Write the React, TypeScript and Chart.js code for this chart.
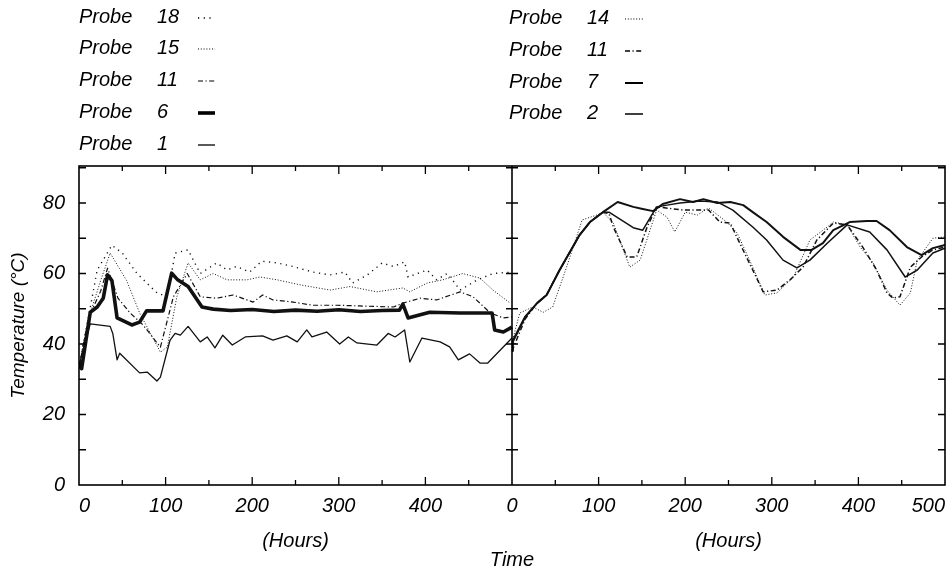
import React, { useEffect, useRef } from 'react';
import { Chart, registerables } from 'chart.js';

Chart.register(...registerables);

const FONT = '"Liberation Sans", Arial, Helvetica, sans-serif';

// Each panel spans 0..500 hours; the right panel is placed after the left one on a shared axis.
const PANEL_SPAN = 500;
const X_TICK_LABELS = [0, 100, 200, 300, 400, 500];
const Y_TICK_LABELS = [0, 20, 40, 60, 80];

// ---------- Left panel (hours, °C) ----------
const P18_H = [0, 5, 12, 21, 38, 50, 67, 90, 102, 111, 126, 140, 159, 171, 182, 197, 211, 229, 247, 270, 290, 307, 316, 333, 350, 363, 376, 380, 402, 413, 425, 434, 440, 460, 478, 500];
const P18_T = [33, 40, 49, 61, 68, 65.8, 60, 54.5, 53.4, 65.8, 66.7, 60, 63, 61, 62, 60.4, 63.5, 63, 62, 60.4, 59.6, 60.4, 57.3, 59.6, 63, 62, 63.3, 59, 61, 58.2, 60, 57.3, 55.3, 58.2, 60, 60.4];

const P15_H = [0, 5, 12, 25, 36, 55, 70, 94, 102, 113, 126, 140, 155, 171, 194, 209, 229, 255, 290, 313, 344, 374, 382, 402, 420, 443, 463, 478, 498];
const P15_T = [33, 40, 48, 58, 65.8, 58, 48.8, 37.7, 39.1, 53.4, 63, 58.2, 60, 58.2, 58.2, 59, 58.2, 56.8, 55.3, 56.3, 54.8, 55.9, 54.8, 57.3, 58.2, 60, 58.7, 55.3, 51.6];

const P11L_H = [0, 5, 12, 25, 33, 45, 59, 74, 94, 109, 125, 140, 159, 178, 201, 212, 224, 247, 270, 298, 324, 363, 374, 394, 413, 440, 455, 475, 490, 500];
const P11L_T = [33, 40, 48, 55, 61.5, 53, 48.8, 45.4, 39.1, 53.4, 60, 53.4, 53, 53.9, 51.9, 53.9, 52.5, 51.9, 51, 51, 50.8, 50.5, 51.6, 53, 52.5, 54.8, 53.4, 48.8, 47.4, 47.7];

const P6_H = [0, 3, 13, 21, 28, 33, 38, 44, 61, 70, 78, 97, 107, 114, 126, 142, 155, 175, 200, 225, 250, 275, 300, 325, 350, 370, 374, 380, 405, 440, 477, 480, 490, 500];
const P6_T = [35, 33, 49, 50.5, 53, 59.6, 58, 47.4, 45.4, 46.2, 49.4, 49.4, 60.1, 58.2, 56.3, 50.5, 49.9, 49.5, 49.8, 49.2, 49.6, 49.3, 49.7, 49.2, 49.5, 49.6, 51.3, 47.4, 49, 48.8, 48.8, 44, 43.4, 44.8];

const P1_H = [0, 13, 36, 39, 44, 47, 70, 79, 90, 94, 105, 111, 117, 126, 140, 148, 157, 166, 177, 192, 212, 224, 240, 252, 263, 269, 286, 301, 311, 321, 344, 357, 365, 376, 382, 396, 417, 428, 438, 451, 463, 472, 500];
const P1_T = [34, 45.7, 45, 43, 35.5, 37.4, 31.8, 32, 29.5, 30.6, 41, 43, 42.5, 45, 40.6, 42, 38.9, 42.5, 39.7, 42, 42.3, 41.1, 42.3, 40.6, 44, 42, 43.4, 40, 42, 40.3, 39.7, 43, 42, 44, 34.9, 41.7, 40.6, 39.2, 35.5, 37.2, 34.6, 34.6, 41.7];

// ---------- Right panel (hours, °C) ----------
const P14_H = [0, 9, 24, 36, 47, 63, 81, 98, 105, 117, 136, 148, 167, 179, 188, 200, 214, 227, 248, 260, 278, 292, 306, 325, 344, 364, 371, 387, 402, 417, 433, 448, 460, 468, 486, 500];
const P14_T = [40.5, 48.8, 50.5, 49, 50.5, 61.8, 75.2, 76.6, 77.4, 74.3, 61.8, 63.8, 78, 76, 71.8, 77.4, 76.6, 78.6, 74.6, 71.5, 61.8, 53.9, 54.5, 59, 69.5, 73.2, 74.6, 73.8, 67.5, 63, 55.3, 51, 54.5, 63.8, 70, 70.4];

const P11R_H = [0, 15, 29, 40, 55, 78, 90, 105, 112, 117, 133, 144, 156, 167, 198, 217, 227, 240, 252, 263, 278, 290, 306, 321, 336, 352, 371, 387, 405, 421, 433, 440, 448, 460, 473, 486, 500];
const P11R_T = [38, 47, 51.6, 54, 61, 70.9, 74.6, 77.4, 77, 73.2, 64.7, 64.7, 73.2, 78.9, 78, 78, 78, 74.6, 74.3, 68.6, 61, 54.8, 55.3, 58.2, 61.8, 69.5, 74.3, 73.8, 67.5, 61, 54.5, 53, 53.4, 61.8, 64.7, 66.7, 67.5];

const P7_H = [0, 1, 15, 29, 40, 55, 78, 90, 105, 122, 140, 151, 163, 174, 194, 209, 221, 237, 252, 267, 278, 294, 313, 333, 346, 359, 371, 390, 410, 421, 436, 456, 473, 486, 500];
const P7_T = [38, 41, 47.7, 51.6, 53.9, 61, 70.9, 74.6, 77.4, 80.3, 78.9, 78.3, 77.7, 79.7, 81.1, 80.3, 81.1, 80, 80.3, 79.4, 77.4, 74.6, 70.4, 66.7, 66.7, 68.6, 72.3, 74.6, 74.9, 74.9, 72.3, 67.5, 65.2, 67.2, 68.1];

const P2_H = [0, 15, 29, 40, 55, 78, 90, 105, 112, 140, 151, 167, 179, 194, 217, 237, 255, 278, 294, 313, 329, 344, 364, 387, 413, 433, 454, 468, 486, 500];
const P2_T = [40, 47.5, 51.6, 53.9, 61, 70.9, 74.6, 77.4, 77.4, 73, 72.3, 78.9, 79.4, 80, 80.6, 80.3, 78, 73.2, 69.5, 63.8, 61.6, 63.8, 68.6, 73.8, 71.8, 66.7, 59, 61, 65.8, 67.2];

const LEFT_PROBES = ['18', '15', '11', '6', '1'];
const RIGHT_PROBES = ['14', '11', '7', '2'];

type Style = { borderWidth: number; borderDash: number[] };
const SPARSE_DOT: Style = { borderWidth: 1.4, borderDash: [1.2, 4.5] };
const DENSE_DOT: Style = { borderWidth: 1, borderDash: [1, 1.8] };
const DASH_DOT: Style = { borderWidth: 1.2, borderDash: [5, 2.5, 1.2, 2.5] };
const THICK: Style = { borderWidth: 3.6, borderDash: [] };
const THIN: Style = { borderWidth: 1.3, borderDash: [] };
const MEDIUM: Style = { borderWidth: 2, borderDash: [] };
const SOLID15: Style = { borderWidth: 1.5, borderDash: [] };
const DASH_DOT_R: Style = { borderWidth: 1.5, borderDash: [5, 2.5, 1.2, 2.5] };

const LEFT_STYLES = [SPARSE_DOT, DENSE_DOT, DASH_DOT, THICK, THIN];
const RIGHT_STYLES = [DENSE_DOT, DASH_DOT_R, MEDIUM, SOLID15];

function series(label: string, hours: number[], temps: number[], offset: number, style: Style) {
  return {
    label,
    data: hours.map((h, i) => ({ x: h + offset, y: temps[i] })),
    borderColor: '#111',
    backgroundColor: '#111',
    borderWidth: style.borderWidth,
    borderDash: style.borderDash,
    pointRadius: 0,
    tension: 0,
    fill: false,
    borderJoinStyle: 'round' as const,
  };
}

const datasets = [
  series('Probe 18', P18_H, P18_T, 0, LEFT_STYLES[0]),
  series('Probe 15', P15_H, P15_T, 0, LEFT_STYLES[1]),
  series('Probe 11', P11L_H, P11L_T, 0, LEFT_STYLES[2]),
  series('Probe 6', P6_H, P6_T, 0, LEFT_STYLES[3]),
  series('Probe 1', P1_H, P1_T, 0, LEFT_STYLES[4]),
  series('Probe 14', P14_H, P14_T, PANEL_SPAN, RIGHT_STYLES[0]),
  series('Probe 11', P11R_H, P11R_T, PANEL_SPAN, RIGHT_STYLES[1]),
  series('Probe 7', P7_H, P7_T, PANEL_SPAN, RIGHT_STYLES[2]),
  series('Probe 2', P2_H, P2_T, PANEL_SPAN, RIGHT_STYLES[3]),
];

const framePlugin = {
  id: 'frame',
  afterDraw(chart: any) {
    const { ctx, chartArea, scales } = chart;
    const { left, right, top, bottom } = chartArea;
    const x = scales.x;
    const y = scales.y;
    ctx.save();
    ctx.strokeStyle = '#000';
    ctx.fillStyle = '#000';
    ctx.lineWidth = 1.6;
    ctx.setLineDash([]);
    ctx.strokeRect(left, top, right - left, bottom - top);
    const mid = x.getPixelForValue(PANEL_SPAN);
    ctx.beginPath();
    ctx.moveTo(mid, top);
    ctx.lineTo(mid, bottom);
    ctx.stroke();
    ctx.lineWidth = 1.3;
    // y ticks every 10
    for (let v = 10; v <= 90; v += 10) {
      const py = y.getPixelForValue(v);
      ctx.beginPath();
      ctx.moveTo(left, py); ctx.lineTo(left + 7, py);
      ctx.moveTo(mid - 6, py); ctx.lineTo(mid + 6, py);
      ctx.moveTo(right - 7, py); ctx.lineTo(right, py);
      ctx.stroke();
    }
    // x ticks every 50 h
    for (let v = 50; v < 2 * PANEL_SPAN; v += 50) {
      if (v === PANEL_SPAN) continue;
      const px = x.getPixelForValue(v);
      const len = v % 100 === 0 ? 8 : 5;
      ctx.beginPath();
      ctx.moveTo(px, bottom); ctx.lineTo(px, bottom - len);
      ctx.moveTo(px, top); ctx.lineTo(px, top + len);
      ctx.stroke();
    }
    // (Hours) labels under each panel
    ctx.font = `italic 20px ${FONT}`;
    ctx.textAlign = 'center';
    ctx.textBaseline = 'middle';
    ctx.fillText('(Hours)', (left + mid) / 2, 541);
    ctx.fillText('(Hours)', (mid + right) / 2, 541);

    // Legends
    const drawLegend = (probes: string[], styles: Style[], x0: number, xn: number, s0: number, s1: number, rows: number[]) => {
      probes.forEach((p, i) => {
        const ry = rows[i];
        ctx.textAlign = 'left';
        ctx.fillText('Probe', x0, ry);
        ctx.fillText(p, xn, ry);
        ctx.beginPath();
        ctx.lineWidth = styles[i].borderWidth;
        ctx.setLineDash(styles[i].borderDash);
        ctx.moveTo(s0, ry + 1);
        ctx.lineTo(s1, ry + 1);
        ctx.stroke();
        ctx.setLineDash([]);
      });
    };
    drawLegend(LEFT_PROBES, LEFT_STYLES, 79, 157, 198, 215, [17, 48, 80, 112, 144]);
    drawLegend(RIGHT_PROBES, RIGHT_STYLES, 509, 587, 625, 643, [18, 50, 82, 113]);
    ctx.restore();
  },
};

export default function App() {
  const ref = useRef<HTMLCanvasElement>(null);
  useEffect(() => {
    if (!ref.current) return;
    const chart = new Chart(ref.current, {
      type: 'line',
      data: { datasets: datasets as any },
      options: {
        animation: false,
        responsive: false,
        devicePixelRatio: 1,
        layout: { padding: { top: 166, right: 1, bottom: 0, left: 0 } },
        plugins: { legend: { display: false }, tooltip: { enabled: false }, title: { display: false } },
        scales: {
          x: {
            type: 'linear',
            min: 0,
            max: 2 * PANEL_SPAN,
            grid: { display: false, drawTicks: false },
            border: { display: false },
            ticks: {
              stepSize: 100,
              autoSkip: false,
              maxRotation: 0,
              align: 'inner',
              padding: 9,
              color: '#000',
              font: { family: FONT, size: 20, style: 'italic' },
              callback: (v: any) => {
                const n = Number(v);
                const h = n > PANEL_SPAN ? n - PANEL_SPAN : n === PANEL_SPAN ? 0 : n;
                return X_TICK_LABELS.includes(h) ? String(h) : '';
              },
            },
            title: {
              display: true,
              text: 'Time',
              color: '#000',
              padding: { top: 0, bottom: 0 },
              font: { family: FONT, size: 20, style: 'italic', lineHeight: 1 },
            },
            afterFit: (s: any) => { s.height = 85; s.paddingLeft = 0; s.paddingRight = 0; },
          },
          y: {
            type: 'linear',
            min: 0,
            max: 90.5,
            grid: { display: false, drawTicks: false },
            border: { display: false },
            ticks: {
              stepSize: 10,
              padding: 14,
              color: '#000',
              font: { family: FONT, size: 20, style: 'italic' },
              callback: (v: any) => (Y_TICK_LABELS.includes(Number(v)) ? String(v) : ''),
            },
            title: {
              display: true,
              text: 'Temperature (°C)',
              color: '#000',
              padding: { top: 7, bottom: 0 },
              font: { family: FONT, size: 19, style: 'italic' },
            },
            afterFit: (s: any) => { s.width = 79; s.paddingTop = 0; s.paddingBottom = 0; },
          },
        },
      } as any,
      plugins: [framePlugin],
    });
    return () => chart.destroy();
  }, []);
  return (
    <div style={{ position: 'fixed', left: 0, top: 0, width: 946, height: 570, background: '#fff' }}>
      <canvas ref={ref} width={946} height={570} style={{ display: 'block', width: 946, height: 570 }} />
    </div>
  );
}
